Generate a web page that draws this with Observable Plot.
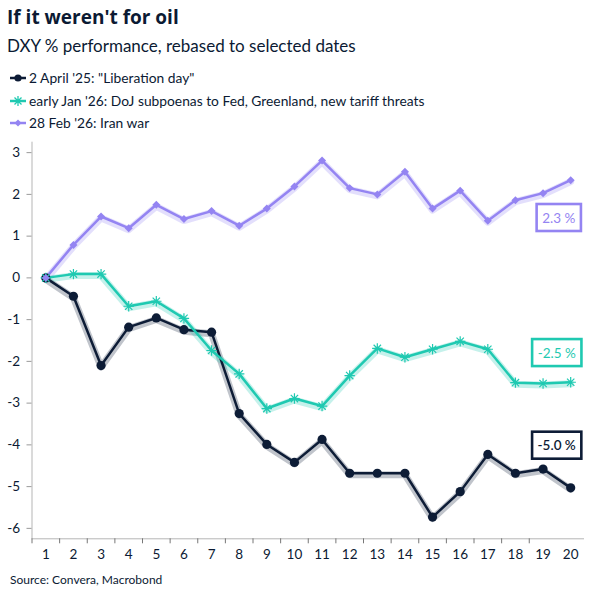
<!DOCTYPE html>
<html>
<head>
<meta charset="utf-8">
<script src="https://cdn.jsdelivr.net/npm/d3@7"></script>
<script src="https://cdn.jsdelivr.net/npm/@observablehq/plot@0.6"></script>
<style>
  body { margin: 0; background: #fff; }
  #wrap { position: relative; width: 601px; height: 601px; font-family: Lato, "Noto Sans", sans-serif; color: #0b1a33; overflow: hidden; }
  .title { position: absolute; left: 7px; top: 6px; font-family: "Open Sans", Lato, sans-serif; font-size: 19px; font-weight: 700; line-height: 22px; white-space: nowrap; }
  .subtitle { position: absolute; left: 7px; top: 36px; font-size: 17px; line-height: 20px; white-space: nowrap; }
  .legend { position: absolute; left: 9px; top: 67px; font-size: 13.8px; line-height: 22.5px; }
  .legend div { display: flex; align-items: center; white-space: nowrap; }
  .legend svg { margin-right: 2px; }
  #chart { position: absolute; left: 0; top: 135px; }
  .caption { position: absolute; left: 10px; top: 572px; font-size: 12px; line-height: 16px; white-space: nowrap; }
</style>
</head>
<body>
<div id="wrap">
  <div class="title">If it weren't for oil</div>
  <div class="subtitle">DXY % performance, rebased to selected dates</div>
  <div class="legend" id="legend"></div>
  <div id="chart"></div>
  <div class="caption">Source: Convera, Macrobond</div>
</div>
<script>
// Trading days since each rebasing date
const days = [1, 2, 3, 4, 5, 6, 7, 8, 9, 10, 11, 12, 13, 14, 15, 16, 17, 18, 19, 20];

// DXY % change from each start date
const liberationDay = [0, -0.44, -2.10, -1.18, -0.96, -1.24, -1.30, -3.25, -3.99, -4.42,
                       -3.87, -4.68, -4.68, -4.68, -5.73, -5.12, -4.23, -4.68, -4.58, -5.03];
const janThreats   = [0, 0.09, 0.09, -0.68, -0.56, -0.97, -1.74, -2.30, -3.13, -2.89,
                       -3.07, -2.34, -1.69, -1.90, -1.71, -1.52, -1.71, -2.51, -2.53, -2.50];
const iranWar      = [0, 0.79, 1.47, 1.19, 1.75, 1.41, 1.60, 1.25, 1.66, 2.19,
                       2.81, 2.15, 2.00, 2.54, 1.66, 2.09, 1.37, 1.86, 2.03, 2.34];

const seriesNames = [
  "2 April '25: \"Liberation day\"",
  "early Jan '26: DoJ subpoenas to Fed, Greenland, new tariff threats",
  "28 Feb '26: Iran war"
];
const seriesValues = [liberationDay, janThreats, iranWar];
const seriesColors = ["#0d1c36", "#1fc9b1", "#9484f2"];
const yTicks = [-6, -5, -4, -3, -2, -1, 0, 1, 2, 3];

// long table for Plot
const rows = seriesNames.flatMap((name, i) =>
  days.map((d, j) => ({ series: name, day: d, value: seriesValues[i][j] })));
const lastRows = seriesNames.map((name, i) =>
  ({ series: name, day: days[days.length - 1], value: seriesValues[i][days.length - 1] }));

// eight-armed asterisk
const asterisk8 = {
  draw(context, size) {
    const r = Math.sqrt(size / Math.PI);
    for (let k = 0; k < 4; k++) {
      const a = k * Math.PI / 4;
      context.moveTo(-r * Math.cos(a), -r * Math.sin(a));
      context.lineTo(r * Math.cos(a), r * Math.sin(a));
    }
  }
};

const only = (i) => rows.filter(r => r.series === seriesNames[i]);
const labelOffsets = [{ dx: -14, dy: -42 }, { dx: -14, dy: -29 }, { dx: -12, dy: 38 }];
const labelText = (v) => `${v.toFixed(1)} %`;

const chart = Plot.plot({
  width: 601,
  height: 430,
  marginTop: 6.7,
  marginBottom: 26.7,
  marginLeft: 31.5,
  marginRight: 17,
  style: { fontFamily: "Lato, 'Noto Sans', sans-serif", fontSize: "13px", color: "#0b1a33", background: "#fff" },
  x: { domain: [0.5, 20.5], axis: null, label: null },
  y: { domain: [-6.25, 3.25], axis: null, label: null },
  color: { domain: seriesNames, range: seriesColors },
  marks: [
    Plot.ruleX([0.5], { stroke: "#b5b5b5" }),
    Plot.ruleY([-6.25], { stroke: "#b5b5b5" }),
    Plot.axisY(yTicks, { tickSize: 5, tickPadding: 7, stroke: "#9a9a9a", fill: "#0b1a33", tickFormat: d => `${d}`, fontSize: 13.5, label: null }),
    Plot.axisX(days.slice(0, 19).map(d => d - 0.5), { tickSize: 5, stroke: "#777", tickFormat: () => "", label: null }),
    Plot.axisX(days, { tickSize: 0, tickPadding: 11, fill: "#0b1a33", tickFormat: d => `${d}`, fontSize: 13.5, label: null }),
    // soft halo under each line
    Plot.line(rows, { x: "day", y: "value", z: "series", stroke: "series", strokeWidth: 7, strokeOpacity: 0.26, dy: 1.5 }),
    Plot.line(rows, { x: "day", y: "value", z: "series", stroke: "series", strokeWidth: 2.5 }),
    Plot.dot(only(0), { x: "day", y: "value", r: 4.6, fill: seriesColors[0], stroke: "none" }),
    Plot.dot(only(1), { x: "day", y: "value", r: 5.2, symbol: asterisk8, stroke: seriesColors[1], strokeWidth: 1.2, fill: "none" }),
    Plot.dot(only(2), { x: "day", y: "value", r: 3.6, symbol: "diamond2", fill: seriesColors[2], stroke: "none" }),
    ...lastRows.map((r, i) => Plot.text([r], {
      x: "day", y: "value",
      text: d => labelText(d.value),
      fill: seriesColors[i], fontSize: 13.5, fontWeight: i === 0 ? 600 : 400,
      textAnchor: "middle", lineAnchor: "middle",
      dx: labelOffsets[i].dx, dy: labelOffsets[i].dy
    }))
  ]
});

document.getElementById("chart").appendChild(chart);

// framed boxes behind the end-value labels, sized from the rendered text
const labelSet = new Set(lastRows.map(r => labelText(r.value)));
Array.from(chart.querySelectorAll("text"))
  .filter(t => labelSet.has(t.textContent.trim()))
  .forEach((t, k) => {
    const b = t.getBBox();
    const color = t.getAttribute("fill") || t.parentNode.getAttribute("fill") || seriesColors[k];
    const rect = document.createElementNS("http://www.w3.org/2000/svg", "rect");
    const padX = 5.5, padY = 5.5;
    rect.setAttribute("x", b.x - padX);
    rect.setAttribute("y", b.y - padY);
    rect.setAttribute("width", b.width + 2 * padX);
    rect.setAttribute("height", b.height + 2 * padY);
    rect.setAttribute("fill", "#fff");
    rect.setAttribute("stroke", color);
    rect.setAttribute("stroke-width", 2.6);
    if (t.getAttribute("transform")) rect.setAttribute("transform", t.getAttribute("transform"));
    t.parentNode.insertBefore(rect, t);
  });

// legend with line-and-marker swatches
const legend = document.getElementById("legend");
seriesNames.forEach((name, i) => {
  const row = document.createElement("div");
  const c = seriesColors[i];
  let marker;
  if (i === 0) marker = `<circle cx="9" cy="6" r="3.6" fill="${c}"/>`;
  else if (i === 1) marker = `<path d="M4,6H14M9,1V11M5.5,2.5L12.5,9.5M12.5,2.5L5.5,9.5" stroke="${c}" stroke-width="1.3"/>`;
  else marker = `<path d="M9,2.5L12.5,6L9,9.5L5.5,6Z" fill="${c}"/>`;
  row.innerHTML = `<svg width="18" height="12"><line x1="1" x2="17" y1="6" y2="6" stroke="${c}" stroke-width="2.5"/>${marker}</svg><span></span>`;
  row.querySelector("span").textContent = name;
  legend.appendChild(row);
});
</script>
</body>
</html>
